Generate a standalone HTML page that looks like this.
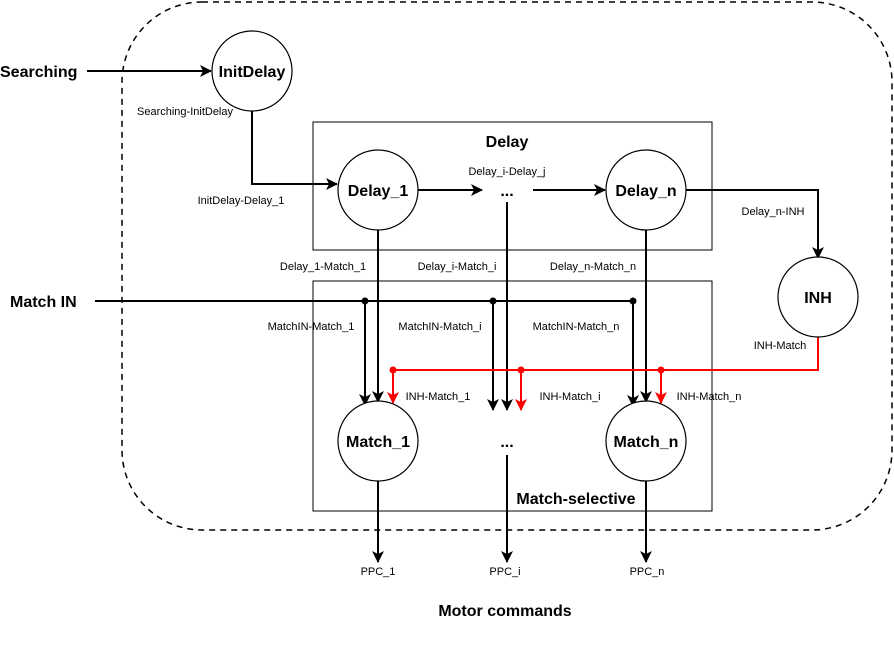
<!DOCTYPE html><html><head><style>body{margin:0;background:#fff}svg text{font-family:"Liberation Sans",Arial,sans-serif}</style></head><body>
<svg width="894" height="642" viewBox="0 0 894 642" xmlns="http://www.w3.org/2000/svg">
<defs>
<marker id="a" markerWidth="12" markerHeight="12" refX="11" refY="6" orient="auto" markerUnits="userSpaceOnUse"><path d="M0,0 L12,6 L0,12 L3,6z" fill="#000"/></marker>
<marker id="r" markerWidth="12" markerHeight="12" refX="11" refY="6" orient="auto" markerUnits="userSpaceOnUse"><path d="M0,0 L12,6 L0,12 L3,6z" fill="#f00"/></marker>
</defs>
<rect x="122" y="2" width="770" height="528" rx="80" fill="none" stroke="#000" stroke-width="1.5" stroke-dasharray="6,5"/>
<rect x="313" y="122" width="399" height="128" fill="none" stroke="#000"/>
<rect x="313" y="281" width="399" height="230" fill="none" stroke="#000"/>
<g fill="none" stroke="#000" stroke-width="2">
<path d="M87,71H211" marker-end="url(#a)"/>
<path d="M252,111V184H337" marker-end="url(#a)"/>
<path d="M418,190H482" marker-end="url(#a)"/>
<path d="M533,190H605" marker-end="url(#a)"/>
<path d="M686,190H818V258" marker-end="url(#a)"/>
<path d="M378,230V402" marker-end="url(#a)"/>
<path d="M507,202V410" marker-end="url(#a)"/>
<path d="M646,230V402" marker-end="url(#a)"/>
<path d="M95,301H633"/>
<path d="M365,301V405" marker-end="url(#a)"/>
<path d="M493,301V410" marker-end="url(#a)"/>
<path d="M633,301V406" marker-end="url(#a)"/>
<path d="M378,481V562" marker-end="url(#a)"/>
<path d="M507,455V562" marker-end="url(#a)"/>
<path d="M646,481V562" marker-end="url(#a)"/>
</g>
<g fill="none" stroke="#f00" stroke-width="2">
<path d="M818,337V370H393"/>
<path d="M393,370V403" marker-end="url(#r)"/>
<path d="M521,370V410" marker-end="url(#r)"/>
<path d="M661,370V403" marker-end="url(#r)"/>
</g>
<g fill="#000"><circle cx="365" cy="301" r="3.5"/><circle cx="493" cy="301" r="3.5"/><circle cx="633" cy="301" r="3.5"/></g>
<g fill="#f00"><circle cx="393" cy="370" r="3.5"/><circle cx="521" cy="370" r="3.5"/><circle cx="661" cy="370" r="3.5"/></g>
<g fill="#fff" stroke="#000" stroke-width="1.2">
<circle cx="252" cy="71" r="40"/><circle cx="378" cy="190" r="40"/><circle cx="646" cy="190" r="40"/>
<circle cx="818" cy="297" r="40"/><circle cx="378" cy="441" r="40"/><circle cx="646" cy="441" r="40"/>
</g>
<g font-weight="bold" font-size="16" text-anchor="middle">
<text x="252" y="77">InitDelay</text><text x="378" y="196">Delay_1</text><text x="646" y="196">Delay_n</text>
<text x="818" y="303">INH</text><text x="378" y="447">Match_1</text><text x="646" y="447">Match_n</text>
<text x="507" y="196">...</text><text x="507" y="447">...</text>
<text x="507" y="147">Delay</text><text x="576" y="504">Match-selective</text>
<text x="505" y="616">Motor commands</text>
</g>
<g font-weight="bold" font-size="16">
<text x="0" y="77">Searching</text><text x="10" y="307">Match IN</text>
</g>
<g font-size="11" text-anchor="middle">
<text x="185" y="115">Searching-InitDelay</text>
<text x="241" y="204">InitDelay-Delay_1</text>
<text x="507" y="175">Delay_i-Delay_j</text>
<text x="773" y="215">Delay_n-INH</text>
<text x="780" y="349">INH-Match</text>
<text x="323" y="270">Delay_1-Match_1</text>
<text x="457" y="270">Delay_i-Match_i</text>
<text x="593" y="270">Delay_n-Match_n</text>
<text x="311" y="330">MatchIN-Match_1</text>
<text x="440" y="330">MatchIN-Match_i</text>
<text x="576" y="330">MatchIN-Match_n</text>
<text x="438" y="400">INH-Match_1</text>
<text x="570" y="400">INH-Match_i</text>
<text x="709" y="400">INH-Match_n</text>
<text x="378" y="575">PPC_1</text><text x="505" y="575">PPC_i</text><text x="647" y="575">PPC_n</text>
</g>
</svg></body></html>
